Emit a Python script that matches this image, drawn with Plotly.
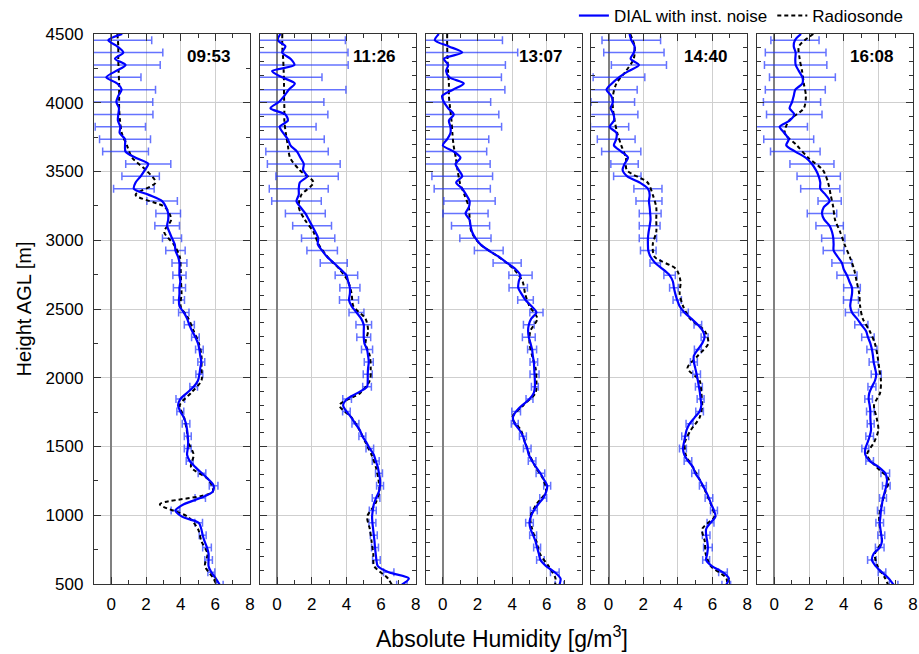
import numpy as np
import plotly.graph_objects as go

# ---------------- data ----------------
TIMES = ["09:53", "11:26", "13:07", "14:40", "16:08"]

# DIAL heights (m AGL), 45 m grid from the top of the profile
H_DIAL = np.arange(4500, 490, -45)          # 90 levels
# Radiosonde heights, 90 m grid
H_SONDE = np.arange(4500, 400, -90)         # 46 levels
# instrument-noise error bars are drawn at every second DIAL level
H_ERR = H_DIAL[1::2]

DIAL_0953 = [0.63, -0.17, 0.34, 0.69, 0.21, 0.82, 0.25, -0.29, 0.34, 0.59,
             0.40, 0.29, 0.44, 0.40, 0.38, 0.52, 0.48, 0.79, 0.79, 0.82,
             1.40, 2.13, 1.93, 1.69, 1.40, 1.30, 2.16, 2.93, 3.16, 3.28,
             3.28, 3.22, 3.35, 3.50, 3.66, 3.70, 3.85, 3.93, 3.93, 3.93,
             3.98, 3.93, 3.93, 3.90, 3.93, 4.18, 4.37, 4.50, 4.66, 4.85,
             5.00, 5.08, 5.13, 5.19, 5.13, 5.08, 5.00, 4.75, 4.37, 3.98,
             3.85, 3.98, 4.18, 4.31, 4.37, 4.41, 4.43, 4.41, 4.37, 4.52,
             4.85, 5.23, 5.61, 5.90, 5.84, 5.13, 4.18, 3.70, 4.08, 5.04,
             5.19, 5.27, 5.38, 5.52, 5.61, 5.61, 5.61, 5.77, 6.03, 6.25]
SONDE_0953 = [0.35, 0.40, 0.40, 0.42, 0.45, 0.45, 0.45, 0.50, 0.60, 0.90,
              1.20, 2.00, 2.55, 1.40, 3.10, 3.45, 3.05, 3.60, 3.95, 4.00,
              4.02, 4.05, 4.00, 4.45, 4.75, 5.05, 5.20, 5.20, 5.20, 4.60,
              3.95, 4.20, 4.35, 4.45, 4.75, 4.60, 5.60, 5.85, 2.80, 4.40,
              5.00, 5.20, 5.55, 5.40, 5.90, 6.20]
ERR_0953 = [2.50, 2.28, 2.00, 2.00, 1.96, 2.10, 2.00, 1.45, 1.47, 1.32,
            1.30, 1.08, 1.17, 0.88, 0.71, 0.71, 0.55, 0.56, 0.43, 0.38,
            0.35, 0.32, 0.30, 0.29, 0.22, 0.22, 0.20, 0.20, 0.22, 0.25,
            0.20, 0.22, 0.20, 0.20, 0.20, 0.22, 0.25, 0.30, 0.25, 0.22,
            0.20, 0.25, 0.22, 0.20, 0.20]

DIAL_1126 = [0.19, 0.04, 0.48, 0.29, 0.77, 1.00, -0.29, 0.29, 1.02, 0.67,
             0.42, 0.10, -0.38, 0.48, 0.62, 0.15, 0.35, 0.62, 0.77, 1.15,
             1.35, 1.54, 1.50, 1.73, 1.31, 1.25, 1.25, 1.12, 1.35, 1.63,
             1.83, 2.02, 2.21, 2.37, 2.35, 2.60, 2.88, 3.27, 3.65, 4.00,
             4.10, 4.20, 4.20, 4.15, 4.30, 4.58, 4.85, 5.00, 5.00, 5.00,
             5.04, 5.19, 5.25, 5.29, 5.25, 5.23, 5.23, 5.19, 4.65, 4.04,
             3.81, 4.00, 4.29, 4.52, 4.77, 4.92, 5.15, 5.35, 5.58, 5.69,
             5.81, 5.88, 5.94, 5.94, 5.87, 5.71, 5.58, 5.52, 5.48, 5.50,
             5.54, 5.58, 5.62, 5.65, 5.69, 5.73, 5.81, 6.44, 7.60, 7.20]
SONDE_1126 = [0.30, 0.30, 0.35, 0.38, 0.40, 0.40, 0.42, 0.42, 0.50, 0.62,
              0.75, 1.30, 2.10, 1.40, 1.25, 1.60, 2.10, 2.40, 2.90, 3.60,
              4.10, 4.30, 4.40, 5.10, 5.25, 5.10, 5.35, 5.40, 5.35, 4.80,
              3.60, 4.30, 4.75, 5.10, 5.45, 5.70, 5.85, 5.90, 5.65, 5.20,
              5.35, 5.45, 5.55, 5.60, 6.40, 6.80]
ERR_1126 = [3.90, 3.80, 3.10, 2.30, 3.30, 2.60, 2.45, 2.10, 2.10, 1.80,
            2.10, 1.80, 1.70, 1.43, 1.15, 1.12, 0.96, 0.88, 0.78, 0.65,
            0.58, 0.55, 0.43, 0.45, 0.40, 0.32, 0.26, 0.26, 0.25, 0.25,
            0.22, 0.20, 0.20, 0.22, 0.20, 0.20, 0.20, 0.22, 0.20, 0.20,
            0.20, 0.20, 0.22, 0.30, 0.30]

DIAL_1307 = [-0.23, -0.46, 0.35, 1.12, 0.06, 0.31, 0.19, 0.38, 1.21, 0.58,
             -0.04, 0.06, 0.31, 0.63, 0.35, 0.44, 0.44, 0.25, 0.00, 0.63,
             1.02, 0.73, 0.92, 1.12, 0.77, 1.12, 1.35, 1.54, 1.50, 1.31,
             1.54, 1.60, 1.69, 1.88, 2.17, 2.65, 3.23, 3.71, 4.19, 4.48,
             4.38, 4.35, 4.54, 4.77, 5.12, 5.40, 5.10, 4.96, 4.92, 4.96,
             5.06, 5.15, 5.19, 5.25, 5.27, 5.29, 5.31, 5.31, 5.25, 5.00,
             4.58, 4.23, 4.04, 4.15, 4.42, 4.62, 4.73, 4.87, 4.96, 5.15,
             5.38, 5.63, 5.83, 6.02, 5.96, 5.79, 5.50, 5.25, 5.08, 5.00,
             5.06, 5.21, 5.35, 5.44, 5.54, 5.63, 5.96, 6.46, 6.79, 6.73]
SONDE_1307 = [0.25, 0.25, 0.27, 0.30, 0.35, 0.35, 0.42, 0.50, 0.55, 0.62,
              0.75, 0.85, 0.98, 1.25, 1.50, 1.55, 1.65, 2.17, 3.20, 4.10,
              4.60, 4.75, 5.00, 5.45, 5.05, 5.00, 5.15, 5.35, 5.40, 5.35,
              4.65, 4.00, 4.50, 4.75, 5.00, 5.35, 5.80, 5.95, 5.40, 5.05,
              5.15, 5.40, 5.60, 6.10, 6.50, 6.40]
ERR_1307 = [3.90, 3.20, 3.30, 3.00, 3.00, 2.70, 2.60, 2.95, 2.40, 1.90,
            2.00, 1.75, 1.62, 1.48, 1.30, 1.10, 0.90, 0.83, 0.81, 0.67,
            0.53, 0.45, 0.38, 0.31, 0.37, 0.26, 0.22, 0.26, 0.20, 0.20,
            0.25, 0.20, 0.20, 0.22, 0.22, 0.25, 0.20, 0.20, 0.20, 0.22,
            0.20, 0.20, 0.22, 0.25, 0.25]

DIAL_1440 = [1.21, 1.31, 1.50, 1.46, 1.27, 1.75, 1.15, 0.60, 0.19, -0.12,
             0.15, 0.25, 0.12, 0.29, 0.31, 0.06, 0.46, 0.44, 0.31, 0.73,
             1.12, 0.92, 0.81, 1.08, 1.79, 2.27, 2.37, 2.33, 2.37, 2.40,
             2.42, 2.37, 2.31, 2.27, 2.27, 2.29, 2.42, 2.69, 3.13, 3.52,
             3.71, 3.77, 3.85, 3.96, 4.10, 4.38, 4.77, 5.15, 5.44, 5.54,
             5.40, 5.15, 4.92, 4.92, 5.00, 5.08, 5.15, 5.21, 5.27, 5.31,
             5.35, 5.25, 4.96, 4.67, 4.50, 4.42, 4.35, 4.29, 4.37, 4.58,
             4.87, 5.00, 5.25, 5.44, 5.63, 5.79, 5.92, 6.08, 6.17, 5.88,
             5.63, 5.63, 5.69, 5.73, 5.69, 5.63, 5.96, 6.60, 6.94, 6.79]
SONDE_1440 = [1.25, 1.50, 1.45, 1.00, 0.45, 0.25, 0.25, 0.35, 0.50, 0.73,
              1.00, 1.05, 2.25, 2.55, 2.75, 2.75, 2.75, 2.55, 2.65, 3.90,
              4.15, 4.10, 4.30, 4.70, 5.55, 5.75, 5.15, 4.55, 5.25, 5.35,
              5.40, 5.25, 4.75, 4.40, 4.45, 4.85, 5.25, 5.60, 5.90, 6.10,
              5.40, 5.55, 5.60, 5.90, 6.80, 6.80]
ERR_1440 = [1.69, 1.74, 1.59, 1.49, 1.77, 1.25, 1.40, 1.10, 1.09, 1.13,
            0.79, 0.79, 0.81, 0.75, 0.63, 0.60, 0.50, 0.45, 0.30, 0.33,
            0.25, 0.24, 0.22, 0.22, 0.20, 0.20, 0.20, 0.22, 0.20, 0.20,
            0.22, 0.20, 0.20, 0.20, 0.22, 0.20, 0.20, 0.22, 0.20, 0.20,
            0.22, 0.25, 0.20, 0.25, 0.25]

DIAL_1608 = [1.54, 1.19, 1.12, 1.23, 1.21, 1.23, 1.42, 1.62, 1.62, 1.21,
             1.12, 1.02, 0.88, 1.15, 0.88, 0.31, 0.58, 0.83, 0.69, 1.21,
             1.81, 2.17, 2.40, 2.56, 2.65, 2.65, 2.96, 3.19, 2.85, 2.75,
             2.88, 3.19, 3.33, 3.40, 3.42, 3.42, 3.65, 3.90, 4.00, 4.19,
             4.33, 4.48, 4.48, 4.42, 4.38, 4.48, 4.77, 5.02, 5.29, 5.40,
             5.54, 5.63, 5.69, 5.73, 5.81, 5.88, 5.81, 5.63, 5.48, 5.44,
             5.50, 5.54, 5.54, 5.56, 5.58, 5.50, 5.38, 5.25, 5.25, 5.50,
             6.02, 6.40, 6.50, 6.46, 6.37, 6.27, 6.21, 6.15, 6.12, 6.08,
             6.12, 6.17, 6.21, 6.08, 5.73, 5.63, 5.85, 6.21, 6.60, 6.88]
SONDE_1608 = [2.25, 1.42, 1.46, 1.60, 1.70, 1.82, 1.70, 0.85, 0.60, 1.30,
              1.95, 2.80, 3.10, 3.25, 3.40, 3.50, 3.80, 4.05, 4.35, 4.60,
              4.75, 4.90, 4.95, 5.10, 5.50, 5.80, 5.95, 6.05, 6.15, 6.10,
              5.75, 5.90, 6.00, 5.75, 5.35, 5.90, 6.60, 6.40, 6.20, 6.05,
              6.10, 6.20, 5.80, 5.95, 6.40, 6.70]
ERR_1608 = [1.39, 1.75, 1.80, 1.90, 1.73, 1.65, 1.60, 1.60, 1.44, 1.43,
            1.27, 1.25, 1.13, 0.67, 0.85, 0.79, 0.67, 0.60, 0.58, 0.58,
            0.48, 0.43, 0.38, 0.38, 0.36, 0.29, 0.26, 0.29, 0.23, 0.22,
            0.22, 0.20, 0.22, 0.20, 0.22, 0.25, 0.22, 0.20, 0.20, 0.22,
            0.20, 0.25, 0.25, 0.22, 0.25]

DIAL = [DIAL_0953, DIAL_1126, DIAL_1307, DIAL_1440, DIAL_1608]
SONDE = [SONDE_0953, SONDE_1126, SONDE_1307, SONDE_1440, SONDE_1608]
ERR = [ERR_0953, ERR_1126, ERR_1307, ERR_1440, ERR_1608]
MINOR_DY = [250, 100, 100, 100, 100]

X_TICKS = [0, 2, 4, 6, 8]
Y_TICKS = [500, 1000, 1500, 2000, 2500, 3000, 3500, 4000, 4500]

# ---------------- figure ----------------
W, H = 919, 654
ML, MR, MT, MB = 94, 6, 34, 70
PW = W - ML - MR
PANEL = 156.0
STEP = (PW - PANEL) / 4.0
FONT = "Liberation Sans, Arial, sans-serif"
TICK_FS = 17

fig = go.Figure()
layout = dict(
    width=W, height=H,
    margin=dict(l=ML, r=MR, t=MT, b=MB, pad=0, autoexpand=False),
    paper_bgcolor="white", plot_bgcolor="white",
    font=dict(family=FONT, size=TICK_FS, color="black"),
    showlegend=True,
    legend=dict(orientation="h", x=0.995, xanchor="right",
                yref="container", y=1 - 16.0 / H, yanchor="middle",
                font=dict(size=17), bgcolor="rgba(0,0,0,0)", itemwidth=30,
                tracegroupgap=0, traceorder="normal"),
    annotations=[],
)

for i in range(5):
    s = "" if i == 0 else str(i + 1)
    xa, ya = "x" + s, "y" + s
    d = np.array(DIAL[i])
    # error bars (instrument noise)
    fig.add_trace(go.Scatter(
        x=d[1::2], y=H_ERR, xaxis=xa, yaxis=ya, mode="markers",
        marker=dict(size=1, color="rgba(0,0,0,0)"),
        error_x=dict(type="data", array=ERR[i], symmetric=True,
                     color="rgba(35,55,255,0.7)", thickness=1.5, width=4),
        showlegend=False, hoverinfo="skip"))
    fig.add_trace(go.Scatter(
        x=SONDE[i], y=H_SONDE, xaxis=xa, yaxis=ya, mode="lines",
        line=dict(color="black", width=2, dash="4px,3px", shape="spline", smoothing=0.8),
        name="Radiosonde", legendrank=2, showlegend=(i == 0)))
    fig.add_trace(go.Scatter(
        x=d, y=H_DIAL, xaxis=xa, yaxis=ya, mode="lines",
        line=dict(color="#0000ff", width=2.2, shape="spline", smoothing=0.8),
        name="DIAL with inst. noise", legendrank=1, showlegend=(i == 0)))

    x0 = STEP * i / PW
    x1 = min(1.0, (STEP * i + PANEL) / PW)
    layout["xaxis" + s] = dict(
        domain=[x0, x1], anchor=ya, range=[-1, 8],
        tickvals=X_TICKS, ticks="inside", ticklen=7, tickwidth=1, tickcolor="#333",
        minor=dict(dtick=1, tick0=0, ticks="inside", ticklen=4, tickcolor="#333", showgrid=False),
        showgrid=True, gridcolor="#cfcfcf", gridwidth=1,
        zeroline=True, zerolinecolor="#808080", zerolinewidth=1.6,
        showline=True, linecolor="#333", linewidth=1.3, mirror="ticks",
        tickfont=dict(size=TICK_FS), ticklabelstandoff=4, fixedrange=True)
    layout["yaxis" + s] = dict(
        domain=[0, 1], anchor=xa, range=[500, 4500],
        tickvals=Y_TICKS, ticks="inside", ticklen=7, tickwidth=1, tickcolor="#333",
        minor=dict(dtick=MINOR_DY[i], tick0=500, ticks="inside", ticklen=4,
                   tickcolor="#333", showgrid=False),
        showgrid=True, gridcolor="#cfcfcf", gridwidth=1, zeroline=False,
        showline=True, linecolor="#333", linewidth=1.3, mirror="ticks",
        showticklabels=(i == 0), tickfont=dict(size=TICK_FS), ticklabelstandoff=6,
        fixedrange=True)
    layout["annotations"].append(dict(
        text="<b>%s</b>" % TIMES[i], xref=xa + " domain", yref=ya + " domain",
        x=0.885, y=0.96, xanchor="right", yanchor="middle", showarrow=False,
        font=dict(size=17, family=FONT)))

layout["yaxis"]["title"] = dict(text="Height AGL [m]", font=dict(size=20), standoff=8)
layout["annotations"].append(dict(
    text="Absolute Humidity [g/m<sup>3</sup>]", xref="paper", yref="paper",
    x=(502 - ML) / PW, y=-(637 - (H - MB)) / (H - MT - MB), xanchor="center", yanchor="middle",
    showarrow=False, font=dict(size=23, family=FONT)))

fig.update_layout(**layout)
fig.write_html("out.html", config=dict(displayModeBar=False))
